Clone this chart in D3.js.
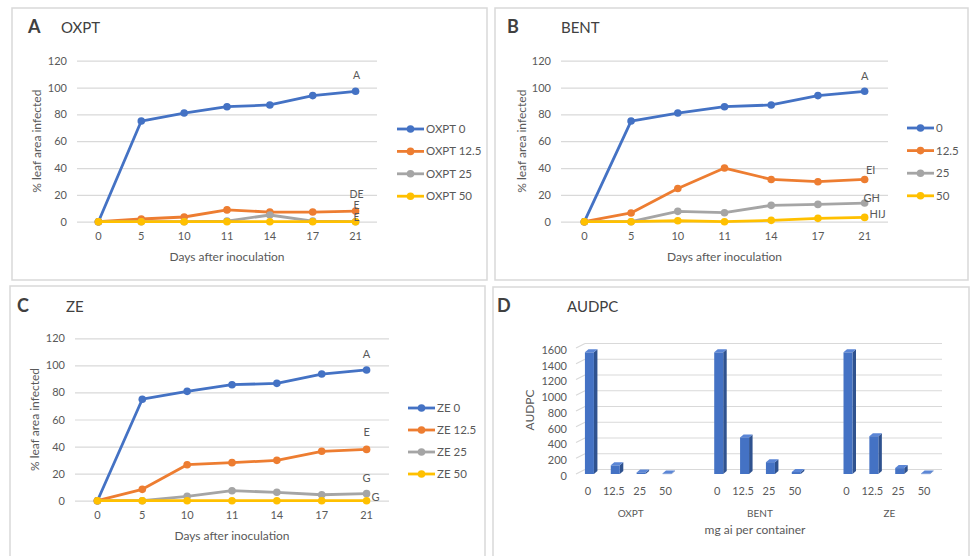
<!DOCTYPE html>
<html><head><meta charset="utf-8">
<script src="https://cdn.jsdelivr.net/npm/d3@7/dist/d3.min.js"></script>
<style>
body{margin:0;background:#fff}
svg{display:block}
text{font-family:Lato,"Open Sans",sans-serif}
</style></head>
<body><svg id="c" width="970" height="556"></svg>
<script>
// ---------- DATA ----------
const days = ["0","5","10","11","14","17","21"];
const pctTicks = [0,20,40,60,80,100,120];
const doseNames = ["0","12.5","25","50"];

const oxpt0   = [0,75,81,85.7,87,94,97.2];
const oxpt125 = [0,2,3.5,8.8,7.2,7.2,7.9];
const oxpt25  = [0,0,0,0.5,5,0.5,0];
const oxpt50  = [0,0,0,0,0,0,0];
const oxptNames = ["OXPT 0","OXPT 12.5","OXPT 25","OXPT 50"];
const oxptLetters = ["A","DE","E","E"];

const bent0   = [0,75,81,85.7,87,94,97.2];
const bent125 = [0,6.5,24.8,40,31.5,29.8,31.5];
const bent25  = [0,0,7.7,6.7,12.2,12.9,13.9];
const bent50  = [0,0,0.7,0,1,2.5,3.2];
const bentNames = ["0","12.5","25","50"];
const bentLetters = ["A","EI","GH","HIJ"];

const ze0   = [0,75,80.8,85.7,86.7,93.6,96.6];
const ze125 = [0,8.4,26.6,28.1,29.8,36.5,37.9];
const ze25  = [0,0,3.2,7.4,6.2,4.4,5.2];
const ze50  = [0,0,0,0,0,0,0];
const zeNames = ["ZE 0","ZE 12.5","ZE 25","ZE 50"];
const zeLetters = ["A","E","G","G"];

const audpcGroups = ["OXPT","BENT","ZE"];
const audpcOXPT = [1545,110,20,5];
const audpcBENT = [1545,465,150,25];
const audpcZE   = [1545,480,75,5];
const audpcTicks = [0,200,400,600,800,1000,1200,1400,1600];

// ---------- STYLE ----------
const colors = ["#4472C4","#ED7D31","#A5A5A5","#FFC000"];
const txt = "#595959";
const grid = "#D9D9D9";

const svg = d3.select("#c");

// panel borders
const boxes = [[12,8,475,272],[495,8,473,272],[10,286,475,280],[493,287,476,280]];
boxes.forEach(b=>svg.append("rect").attr("x",b[0]).attr("y",b[1]).attr("width",b[2]).attr("height",b[3])
  .attr("fill","#fff").attr("stroke","#D9D9D9").attr("stroke-width",1.5));

function header(x1,x2,y,letter,title){
  svg.append("text").attr("x",x1).attr("y",y).attr("font-size",18).attr("font-weight","bold").attr("fill","#404040").text(letter);
  svg.append("text").attr("x",x2).attr("y",y).attr("font-size",15).attr("fill","#404040").text(title);
}

function linePanel(p){
  const g = svg.append("g");
  const x = d3.scaleBand().domain(days).range([p.L,p.R]);
  const cx = d => x(d)+x.bandwidth()/2;
  const y = d3.scaleLinear().domain([0,120]).range([p.B,p.T]);
  const ya = g.append("g").attr("transform",`translate(${p.L},0)`)
    .call(d3.axisLeft(y).tickValues(pctTicks).tickSize(-(p.R-p.L)).tickPadding(10));
  ya.select(".domain").remove();
  ya.selectAll("line").attr("stroke",grid).attr("stroke-width",1.2);
  ya.selectAll("text").attr("fill",txt).attr("font-size",11).attr("font-family","Lato");
  const xa = g.append("g").attr("transform",`translate(0,${p.B})`)
    .call(d3.axisBottom(x).tickSize(0).tickPadding(11));
  xa.select(".domain").remove();
  xa.selectAll("text").attr("fill",txt).attr("font-size",11).attr("font-family","Lato");
  g.append("text").attr("x",(p.L+p.R)/2).attr("y",p.B+39).attr("text-anchor","middle")
    .attr("font-size",12).attr("fill",txt).text("Days after inoculation");
  g.append("text").attr("transform",`translate(${p.yt},${(p.T+p.B)/2}) rotate(-90)`).attr("text-anchor","middle")
    .attr("dy","0.35em").attr("font-size",12).attr("fill",txt).text("% leaf area infected");
  const line = d3.line().x((v,i)=>cx(days[i])).y(v=>y(v));
  p.series.forEach((s,si)=>{
    g.append("path").datum(s).attr("d",line).attr("fill","none").attr("stroke",colors[si])
      .attr("stroke-width",2.8).attr("stroke-linejoin","round").attr("stroke-linecap","round");
    g.selectAll(null).data(s).enter().append("circle").attr("cx",(v,i)=>cx(days[i])).attr("cy",v=>y(v))
      .attr("r",3.8).attr("fill",colors[si]);
  });
  p.letters.forEach((t,si)=>{
    const s = p.series[si];
    g.append("text").attr("x",cx(days[days.length-1])+p.ldx[si]).attr("y",y(s[s.length-1])+p.ldy[si])
      .attr("text-anchor","middle").attr("dy","0.35em").attr("font-size",p.lfs||11).attr("fill",txt).text(t);
  });
  p.names.forEach((n,i)=>{
    const ly = p.legY + i*p.legStep;
    g.append("line").attr("x1",p.legX).attr("x2",p.legX+27).attr("y1",ly).attr("y2",ly)
      .attr("stroke",colors[i]).attr("stroke-width",2.8);
    g.append("circle").attr("cx",p.legX+13.5).attr("cy",ly).attr("r",3.8).attr("fill",colors[i]);
    g.append("text").attr("x",p.legX+29).attr("y",ly).attr("dy","0.35em").attr("font-size",11.5)
      .attr("fill",txt).text(n);
  });
}

header(28,61,33,"A","OXPT");
linePanel({L:77,R:377,T:60.7,B:221.7,yt:37,series:[oxpt0,oxpt125,oxpt25,oxpt50],names:oxptNames,
  letters:oxptLetters,ldx:[1,1,1,1],ldy:[-16,-17,-16,-4],lfs:10.5,legX:397,legY:129,legStep:22.4});

header(507,561,33,"B","BENT");
linePanel({L:561,R:888,T:60.7,B:221.7,yt:522,series:[bent0,bent125,bent25,bent50],names:bentNames,
  letters:bentLetters,ldx:[0,6,7,13],ldy:[-15,-9,-5,-3],legX:907,legY:128,legStep:22.6});

header(17,66,312,"C","ZE");
linePanel({L:75,R:389,T:338.3,B:500.7,yt:35,series:[ze0,ze125,ze25,ze50],names:zeNames,
  letters:zeLetters,ldx:[0,0,0,9],ldy:[-16,-17,-16,-4],legX:408,legY:408,legStep:22});

// ---------- PANEL D (3D-style bars) ----------
header(497,567,312,"D","AUDPC");
(function(){
  const g = svg.append("g");
  const groupVals = [audpcOXPT,audpcBENT,audpcZE];
  const slots = [];
  audpcGroups.forEach((gn,gi)=>{
    doseNames.forEach(d=>slots.push(gn+"|"+d));
    if(gi<audpcGroups.length-1) slots.push("gap"+gi);
  });
  const x = d3.scaleBand().domain(slots).range([575,937]);
  const cx = k => x(k)+x.bandwidth()/2;
  const y = d3.scaleLinear().domain([0,1600]).range([474,348]);
  const depthX = 9, depthY = 4.5;
  audpcTicks.forEach(t=>{
    g.append("line").attr("x1",576).attr("y1",y(t)).attr("x2",576+depthX).attr("y2",y(t)-depthY)
      .attr("stroke",grid).attr("stroke-width",1.2);
    g.append("line").attr("x1",576+depthX).attr("y1",y(t)-depthY).attr("x2",942).attr("y2",y(t)-depthY)
      .attr("stroke",grid).attr("stroke-width",1.2);
    g.append("text").attr("x",567).attr("y",y(t)+2).attr("dy","0.35em").attr("text-anchor","end")
      .attr("font-size",11).attr("fill",txt).text(t);
  });
  const bw = 9, sx = 3.5, sy = 3;
  audpcGroups.forEach((gn,gi)=>{
    groupVals[gi].forEach((v,di)=>{
      const c = cx(gn+"|"+doseNames[di]);
      const x0 = c-3, x1 = x0+bw, y0 = y(0), y1 = y(v);
      g.append("path").attr("d",`M${x1},${y0}L${x1+sx},${y0-sy}L${x1+sx},${y1-sy}L${x1},${y1}Z`).attr("fill","#2F528F");
      g.append("path").attr("d",`M${x0},${y1}L${x0+sx},${y1-sy}L${x1+sx},${y1-sy}L${x1},${y1}Z`).attr("fill","#5B86D6");
      g.append("rect").attr("x",x0).attr("y",y1).attr("width",bw).attr("height",Math.max(0.5,y0-y1)).attr("fill","#4472C4");
      g.append("text").attr("x",c).attr("y",491).attr("dy","0.35em").attr("text-anchor","middle")
        .attr("font-size",11).attr("fill",txt).text(doseNames[di]);
    });
    const c0 = cx(gn+"|"+doseNames[0]), c3 = cx(gn+"|"+doseNames[3]);
    g.append("text").attr("x",(c0+c3)/2+4).attr("y",513).attr("dy","0.35em").attr("text-anchor","middle")
      .attr("font-size",10).attr("fill",txt).text(gn);
  });
  g.append("text").attr("x",755).attr("y",530).attr("dy","0.35em").attr("text-anchor","middle")
    .attr("font-size",12).attr("fill",txt).text("mg ai per container");
  g.append("text").attr("transform",`translate(530,410) rotate(-90)`).attr("dy","0.35em").attr("text-anchor","middle")
    .attr("font-size",12).attr("fill",txt).text("AUDPC");
})();
</script></body></html>
